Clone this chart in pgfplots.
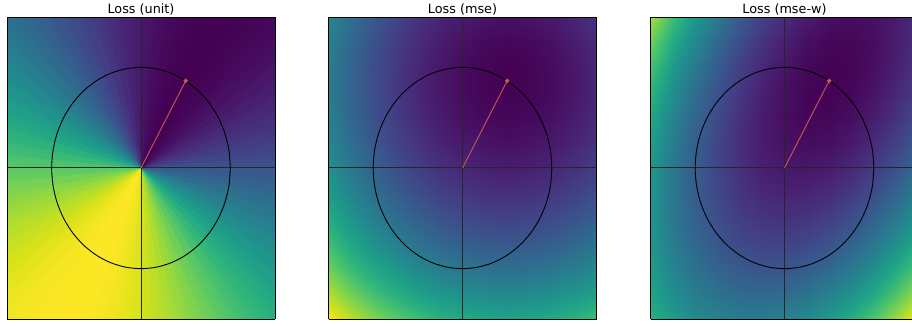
\documentclass[border=0pt]{standalone}
\usepackage{pgfplots}
\pgfplotsset{compat=1.18}
\usepackage{fontspec}
\setmainfont{DejaVu Sans}
\definecolor{lossred}{RGB}{200,88,84}
\pgfplotsset{
  lossax/.style={
    view={0}{90},
    scale only axis, width=268pt, height=302pt,
    xmin=-1.5,xmax=1.5,ymin=-1.5,ymax=1.5,
    xtick=\empty,ytick=\empty,ztick=\empty,
    colormap/viridis,
    clip=true,
    axis line style={black, line width=0.8pt},
    title style={at={(0.5,1)}, anchor=base, yshift=-2.6pt, font=\fontsize{12.8}{15}\selectfont},
    anchor=south west,
  },
  circ/.style={black, line width=0.9pt, smooth, no marks},
  cross/.style={black!85, line width=1pt, no marks},
  vec/.style={lossred, line width=0.9pt, mark=*, mark size=1.7pt, mark indices={2}, mark options={fill=lossred, draw=lossred}},
}
\newcommand{\overlays}{%
  \addplot[cross] coordinates {(-1.5,0) (1.5,0)};
  \addplot[cross] coordinates {(0,-1.5) (0,1.5)};
  \addplot[circ] coordinates {(1,0) (0.9848,0.1736) (0.9397,0.3420) (0.8660,0.5) (0.7660,0.6428) (0.6428,0.7660) (0.5,0.8660) (0.3420,0.9397) (0.1736,0.9848) (0,1) (-0.1736,0.9848) (-0.3420,0.9397) (-0.5,0.8660) (-0.6428,0.7660) (-0.7660,0.6428) (-0.8660,0.5) (-0.9397,0.3420) (-0.9848,0.1736) (-1,0) (-0.9848,-0.1736) (-0.9397,-0.3420) (-0.8660,-0.5) (-0.7660,-0.6428) (-0.6428,-0.7660) (-0.5,-0.8660) (-0.3420,-0.9397) (-0.1736,-0.9848) (0,-1) (0.1736,-0.9848) (0.3420,-0.9397) (0.5,-0.8660) (0.6428,-0.7660) (0.7660,-0.6428) (0.8660,-0.5) (0.9397,-0.3420) (0.9848,-0.1736) (1,0)};
  \addplot[vec] coordinates {(0,0) (0.5,0.866)};
}
\begin{document}
\begin{tikzpicture}
\begin{axis}[lossax, at={(7pt,7pt)}, title={Loss (unit)}, point meta min=0, point meta max=1]
\addplot3[surf, shader=interp] coordinates {
(0,0,0.25) (0,0,0.2132) (0,0,0.1786) (0,0,0.1464) (0,0,0.1170) (0,0,0.0904) (0,0,0.0670) (0,0,0.0468) (0,0,0.0302) (0,0,0.0170) (0,0,0.0076) (0,0,0.0019) (0,0,0) (0,0,0.0019) (0,0,0.0076) (0,0,0.0170) (0,0,0.0302) (0,0,0.0468) (0,0,0.0670) (0,0,0.0904) (0,0,0.1170) (0,0,0.1464) (0,0,0.1786) (0,0,0.2132) (0,0,0.25) (0,0,0.2887) (0,0,0.3290) (0,0,0.3706) (0,0,0.4132) (0,0,0.4564) (0,0,0.5) (0,0,0.5436) (0,0,0.5868) (0,0,0.6294) (0,0,0.6710) (0,0,0.7113) (0,0,0.75) (0,0,0.7868) (0,0,0.8214) (0,0,0.8536) (0,0,0.8830) (0,0,0.9096) (0,0,0.9330) (0,0,0.9532) (0,0,0.9698) (0,0,0.9830) (0,0,0.9924) (0,0,0.9981) (0,0,1) (0,0,0.9981) (0,0,0.9924) (0,0,0.9830) (0,0,0.9698) (0,0,0.9532) (0,0,0.9330) (0,0,0.9096) (0,0,0.8830) (0,0,0.8536) (0,0,0.8214) (0,0,0.7868) (0,0,0.75) (0,0,0.7113) (0,0,0.6710) (0,0,0.6294) (0,0,0.5868) (0,0,0.5436) (0,0,0.5) (0,0,0.4564) (0,0,0.4132) (0,0,0.3706) (0,0,0.3290) (0,0,0.2887) (0,0,0.25)

(2.2,0,0.25) (2.1916,0.1918,0.2132) (2.1666,0.3820,0.1786) (2.1250,0.5694,0.1464) (2.0673,0.7525,0.1170) (1.9939,0.9297,0.0904) (1.9053,1.1,0.0670) (1.8022,1.2619,0.0468) (1.6853,1.4141,0.0302) (1.5556,1.5556,0.0170) (1.4141,1.6853,0.0076) (1.2619,1.8022,0.0019) (1.1,1.9053,0) (0.9297,1.9939,0.0019) (0.7525,2.0673,0.0076) (0.5694,2.1250,0.0170) (0.3820,2.1666,0.0302) (0.1918,2.1916,0.0468) (0,2.2,0.0670) (-0.1918,2.1916,0.0904) (-0.3820,2.1666,0.1170) (-0.5694,2.1250,0.1464) (-0.7525,2.0673,0.1786) (-0.9297,1.9939,0.2132) (-1.1,1.9053,0.25) (-1.2619,1.8022,0.2887) (-1.4141,1.6853,0.3290) (-1.5556,1.5556,0.3706) (-1.6853,1.4141,0.4132) (-1.8022,1.2619,0.4564) (-1.9053,1.1,0.5) (-1.9939,0.9297,0.5436) (-2.0673,0.7525,0.5868) (-2.1250,0.5694,0.6294) (-2.1666,0.3820,0.6710) (-2.1916,0.1918,0.7113) (-2.2,0,0.75) (-2.1916,-0.1918,0.7868) (-2.1666,-0.3820,0.8214) (-2.1250,-0.5694,0.8536) (-2.0673,-0.7525,0.8830) (-1.9939,-0.9297,0.9096) (-1.9053,-1.1,0.9330) (-1.8022,-1.2619,0.9532) (-1.6853,-1.4141,0.9698) (-1.5556,-1.5556,0.9830) (-1.4141,-1.6853,0.9924) (-1.2619,-1.8022,0.9981) (-1.1,-1.9053,1) (-0.9297,-1.9939,0.9981) (-0.7525,-2.0673,0.9924) (-0.5694,-2.1250,0.9830) (-0.3820,-2.1666,0.9698) (-0.1918,-2.1916,0.9532) (0,-2.2,0.9330) (0.1918,-2.1916,0.9096) (0.3820,-2.1666,0.8830) (0.5694,-2.1250,0.8536) (0.7525,-2.0673,0.8214) (0.9297,-1.9939,0.7868) (1.1,-1.9053,0.75) (1.2619,-1.8022,0.7113) (1.4141,-1.6853,0.6710) (1.5556,-1.5556,0.6294) (1.6853,-1.4141,0.5868) (1.8022,-1.2619,0.5436) (1.9053,-1.1,0.5) (1.9939,-0.9297,0.4564) (2.0673,-0.7525,0.4132) (2.1250,-0.5694,0.3706) (2.1666,-0.3820,0.3290) (2.1916,-0.1918,0.2887) (2.2,0,0.25)
};
\overlays
\end{axis}
\begin{axis}[lossax, at={(328.5pt,7pt)}, title={Loss (mse)}, point meta min=0, point meta max=9.6]
\addplot3[surf, shader=interp] coordinates {
(-1.5,-1.5,9.598) (-1.25,-1.5,8.661) (-1,-1.5,7.848) (-0.75,-1.5,7.161) (-0.5,-1.5,6.598) (-0.25,-1.5,6.161) (0,-1.5,5.848) (0.25,-1.5,5.661) (0.5,-1.5,5.598) (0.75,-1.5,5.661) (1,-1.5,5.848) (1.25,-1.5,6.161) (1.5,-1.5,6.598)

(-1.5,-1.25,8.477) (-1.25,-1.25,7.540) (-1,-1.25,6.727) (-0.75,-1.25,6.040) (-0.5,-1.25,5.477) (-0.25,-1.25,5.040) (0,-1.25,4.727) (0.25,-1.25,4.540) (0.5,-1.25,4.477) (0.75,-1.25,4.540) (1,-1.25,4.727) (1.25,-1.25,5.040) (1.5,-1.25,5.477)

(-1.5,-1,7.482) (-1.25,-1,6.545) (-1,-1,5.732) (-0.75,-1,5.045) (-0.5,-1,4.482) (-0.25,-1,4.045) (0,-1,3.732) (0.25,-1,3.545) (0.5,-1,3.482) (0.75,-1,3.545) (1,-1,3.732) (1.25,-1,4.045) (1.5,-1,4.482)

(-1.5,-0.75,6.611) (-1.25,-0.75,5.674) (-1,-0.75,4.861) (-0.75,-0.75,4.174) (-0.5,-0.75,3.611) (-0.25,-0.75,3.174) (0,-0.75,2.861) (0.25,-0.75,2.674) (0.5,-0.75,2.611) (0.75,-0.75,2.674) (1,-0.75,2.861) (1.25,-0.75,3.174) (1.5,-0.75,3.611)

(-1.5,-0.5,5.866) (-1.25,-0.5,4.929) (-1,-0.5,4.116) (-0.75,-0.5,3.429) (-0.5,-0.5,2.866) (-0.25,-0.5,2.429) (0,-0.5,2.116) (0.25,-0.5,1.929) (0.5,-0.5,1.866) (0.75,-0.5,1.929) (1,-0.5,2.116) (1.25,-0.5,2.429) (1.5,-0.5,2.866)

(-1.5,-0.25,5.245) (-1.25,-0.25,4.308) (-1,-0.25,3.495) (-0.75,-0.25,2.808) (-0.5,-0.25,2.245) (-0.25,-0.25,1.808) (0,-0.25,1.495) (0.25,-0.25,1.308) (0.5,-0.25,1.245) (0.75,-0.25,1.308) (1,-0.25,1.495) (1.25,-0.25,1.808) (1.5,-0.25,2.245)

(-1.5,0,4.750) (-1.25,0,3.813) (-1,0,3.000) (-0.75,0,2.313) (-0.5,0,1.750) (-0.25,0,1.313) (0,0,1.000) (0.25,0,0.813) (0.5,0,0.750) (0.75,0,0.813) (1,0,1.000) (1.25,0,1.313) (1.5,0,1.750)

(-1.5,0.25,4.379) (-1.25,0.25,3.442) (-1,0.25,2.629) (-0.75,0.25,1.942) (-0.5,0.25,1.379) (-0.25,0.25,0.942) (0,0.25,0.629) (0.25,0.25,0.442) (0.5,0.25,0.379) (0.75,0.25,0.442) (1,0.25,0.629) (1.25,0.25,0.942) (1.5,0.25,1.379)

(-1.5,0.5,4.134) (-1.25,0.5,3.197) (-1,0.5,2.384) (-0.75,0.5,1.697) (-0.5,0.5,1.134) (-0.25,0.5,0.697) (0,0.5,0.384) (0.25,0.5,0.197) (0.5,0.5,0.134) (0.75,0.5,0.197) (1,0.5,0.384) (1.25,0.5,0.697) (1.5,0.5,1.134)

(-1.5,0.75,4.013) (-1.25,0.75,3.076) (-1,0.75,2.263) (-0.75,0.75,1.576) (-0.5,0.75,1.013) (-0.25,0.75,0.576) (0,0.75,0.263) (0.25,0.75,0.076) (0.5,0.75,0.013) (0.75,0.75,0.076) (1,0.75,0.263) (1.25,0.75,0.576) (1.5,0.75,1.013)

(-1.5,1,4.018) (-1.25,1,3.081) (-1,1,2.268) (-0.75,1,1.581) (-0.5,1,1.018) (-0.25,1,0.581) (0,1,0.268) (0.25,1,0.081) (0.5,1,0.018) (0.75,1,0.081) (1,1,0.268) (1.25,1,0.581) (1.5,1,1.018)

(-1.5,1.25,4.147) (-1.25,1.25,3.210) (-1,1.25,2.397) (-0.75,1.25,1.710) (-0.5,1.25,1.147) (-0.25,1.25,0.710) (0,1.25,0.397) (0.25,1.25,0.210) (0.5,1.25,0.147) (0.75,1.25,0.210) (1,1.25,0.397) (1.25,1.25,0.710) (1.5,1.25,1.147)

(-1.5,1.5,4.402) (-1.25,1.5,3.465) (-1,1.5,2.652) (-0.75,1.5,1.965) (-0.5,1.5,1.402) (-0.25,1.5,0.965) (0,1.5,0.652) (0.25,1.5,0.465) (0.5,1.5,0.402) (0.75,1.5,0.465) (1,1.5,0.652) (1.25,1.5,0.965) (1.5,1.5,1.402)
};
\overlays
\end{axis}
\begin{axis}[lossax, at={(650.5pt,7pt)}, title={Loss (mse-w)}, point meta min=0, point meta max=4.92]
\addplot3[surf, shader=interp] coordinates {
(-1.5,-1.5,3.090) (-1.25,-1.5,2.676) (-1,-1.5,2.364) (-0.75,-1.5,2.155) (-0.5,-1.5,2.050) (-0.25,-1.5,2.047) (0,-1.5,2.148) (0.25,-1.5,2.352) (0.5,-1.5,2.659) (0.75,-1.5,3.069) (1,-1.5,3.583) (1.25,-1.5,4.199) (1.5,-1.5,4.918)

(-1.5,-1.25,2.862) (-1.25,-1.25,2.409) (-1,-1.25,2.059) (-0.75,-1.25,1.813) (-0.5,-1.25,1.669) (-0.25,-1.25,1.629) (0,-1.25,1.692) (0.25,-1.25,1.858) (0.5,-1.25,2.127) (0.75,-1.25,2.499) (1,-1.25,2.975) (1.25,-1.25,3.553) (1.5,-1.25,4.235)

(-1.5,-1,2.692) (-1.25,-1,2.201) (-1,-1,1.814) (-0.75,-1,1.529) (-0.5,-1,1.348) (-0.25,-1,1.270) (0,-1,1.295) (0.25,-1,1.423) (0.5,-1,1.654) (0.75,-1,1.988) (1,-1,2.426) (1.25,-1,2.967) (1.5,-1,3.610)

(-1.5,-0.75,2.581) (-1.25,-0.75,2.052) (-1,-0.75,1.627) (-0.75,-0.75,1.305) (-0.5,-0.75,1.085) (-0.25,-0.75,0.969) (0,-0.75,0.957) (0.25,-0.75,1.047) (0.5,-0.75,1.240) (0.75,-0.75,1.537) (1,-0.75,1.936) (1.25,-0.75,2.439) (1.5,-0.75,3.045)

(-1.5,-0.5,2.530) (-1.25,-0.5,1.963) (-1,-0.5,1.500) (-0.75,-0.5,1.140) (-0.5,-0.5,0.883) (-0.25,-0.5,0.729) (0,-0.5,0.678) (0.25,-0.5,0.731) (0.5,-0.5,0.886) (0.75,-0.5,1.145) (1,-0.5,1.506) (1.25,-0.5,1.971) (1.5,-0.5,2.539)

(-1.5,-0.25,2.538) (-1.25,-0.25,1.934) (-1,-0.25,1.433) (-0.75,-0.25,1.035) (-0.5,-0.25,0.740) (-0.25,-0.25,0.548) (0,-0.25,0.459) (0.25,-0.25,0.474) (0.5,-0.25,0.591) (0.75,-0.25,0.812) (1,-0.25,1.136) (1.25,-0.25,1.563) (1.5,-0.25,2.093)

(-1.5,0,2.606) (-1.25,0,1.964) (-1,0,1.425) (-0.75,0,0.989) (-0.5,0,0.656) (-0.25,0,0.426) (0,0,0.300) (0.25,0,0.276) (0.5,0,0.356) (0.75,0,0.539) (1,0,0.825) (1.25,0,1.214) (1.5,0,1.706)

(-1.5,0.25,2.733) (-1.25,0.25,2.053) (-1,0.25,1.476) (-0.75,0.25,1.002) (-0.5,0.25,0.632) (-0.25,0.25,0.364) (0,0.25,0.200) (0.25,0.25,0.138) (0.5,0.25,0.180) (0.75,0.25,0.325) (1,0.25,0.573) (1.25,0.25,0.924) (1.5,0.25,1.378)

(-1.5,0.5,2.920) (-1.25,0.5,2.202) (-1,0.5,1.587) (-0.75,0.5,1.076) (-0.5,0.5,0.667) (-0.25,0.5,0.362) (0,0.5,0.159) (0.25,0.5,0.060) (0.5,0.5,0.064) (0.75,0.5,0.171) (1,0.5,0.381) (1.25,0.5,0.695) (1.5,0.5,1.111)

(-1.5,0.75,3.165) (-1.25,0.75,2.410) (-1,0.75,1.757) (-0.75,0.75,1.207) (-0.5,0.75,0.761) (-0.25,0.75,0.417) (0,0.75,0.177) (0.25,0.75,0.040) (0.5,0.75,0.006) (0.75,0.75,0.075) (1,0.75,0.247) (1.25,0.75,0.523) (1.5,0.75,0.901)

(-1.5,1,3.471) (-1.25,1,2.678) (-1,1,1.987) (-0.75,1,1.400) (-0.5,1,0.915) (-0.25,1,0.534) (0,1,0.256) (0.25,1,0.081) (0.5,1,0.009) (0.75,1,0.040) (1,1,0.175) (1.25,1,0.412) (1.5,1,0.753)

(-1.5,1.25,3.836) (-1.25,1.25,3.004) (-1,1.25,2.276) (-0.75,1.25,1.650) (-0.5,1.25,1.128) (-0.25,1.25,0.709) (0,1.25,0.393) (0.25,1.25,0.180) (0.5,1.25,0.070) (0.75,1.25,0.063) (1,1.25,0.160) (1.25,1.25,0.360) (1.5,1.25,0.662)

(-1.5,1.5,4.260) (-1.25,1.5,3.390) (-1,1.5,2.624) (-0.75,1.5,1.961) (-0.5,1.5,1.400) (-0.25,1.5,0.943) (0,1.5,0.590) (0.25,1.5,0.339) (0.5,1.5,0.191) (0.75,1.5,0.147) (1,1.5,0.205) (1.25,1.5,0.367) (1.5,1.5,0.632)
};
\overlays
\end{axis}
\pgfresetboundingbox
\path[use as bounding box] (0,0) rectangle (912pt,326pt);
\end{tikzpicture}
\end{document}
